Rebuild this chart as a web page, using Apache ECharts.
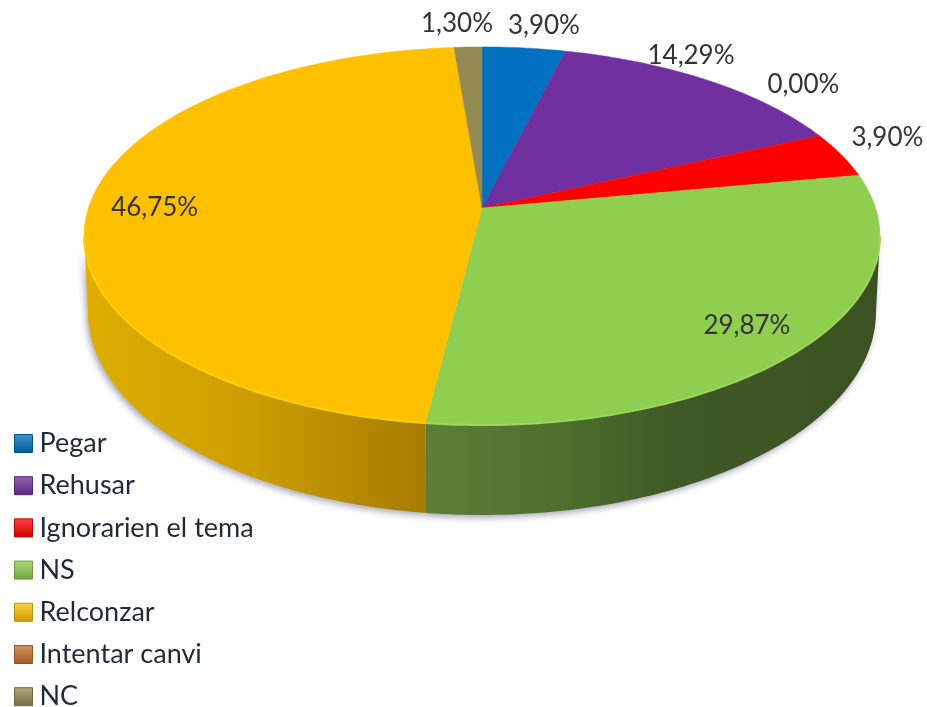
<!DOCTYPE html>
<html>
<head>
<meta charset="utf-8">
<style>
  html, body { margin: 0; padding: 0; background: #fff; }
  #main { width: 927px; height: 707px; }
</style>
<script src="https://cdn.jsdelivr.net/npm/echarts@6/dist/echarts.min.js"></script>
</head>
<body>
<div id="main"></div>
<script>
// legend order
var names = ['Pegar', 'Rehusar', 'Ignorarien el tema', 'NS', 'Relconzar', 'Intentar canvi', 'NC'];
var values = [3.90, 14.29, 3.90, 29.87, 46.75, 0.00, 1.30];
var colors = ['#0070c0', '#7030a0', '#ff0000', '#8fce4f', '#ffc000', '#c8702a', '#948a54'];
// clockwise order round the pie, the empty slice sits between Rehusar and Ignorarien
var pieOrder = ['Pegar', 'Rehusar', 'Intentar canvi', 'Ignorarien el tema', 'NS', 'Relconzar', 'NC'];

// label shift from the middle of each slice's rim, px
var labelShift = {
    'Pegar': [20, -22],
    'Rehusar': [-17, -25],
    'Intentar canvi': [-16, -51],
    'Ignorarien el tema': [46, -17],
    'NS': [-54, -23],
    'Relconzar': [65, 3],
    'NC': [-11, -23]
};

// wall gradients (left to right stops), only the front slices show a wall
var wallFill = {
    'NS': [[427, 930], [[0, '#5c7f38'], [0.27, '#4e6f2d'], [0.48, '#3f5a26'], [1, '#3a4f20']]],
    'Relconzar': [[84, 427], [[0, '#dfae00'], [0.5, '#cc9d00'], [1, '#a67b00']]]
};
var rimLight = { 'NS': '#9ad858', 'Relconzar': '#ffd000' };

// tilted disc: apex, radius and perspective
var apexX = 482, apexY = 208, radX = 393.6, radY = 184.9, persp = 0.148;
var ellCy = 236, ellRy = 189, ellRx = 398, baseCy = 312, baseRy = 203, baseRx = 394;
var wallFrom = 98.5, wallTo = 261.5;

function rim(deg) {
    var a = deg * Math.PI / 180;
    var w = 1 + persp * Math.cos(a);
    return [apexX + radX * Math.sin(a) / w, apexY - radY * Math.cos(a) / w];
}
function base(p) {
    return [apexX + (p[0] - apexX) * baseRx / ellRx, baseCy + (p[1] - ellCy) * baseRy / ellRy];
}
function arc(from, to) {
    var pts = [];
    var n = Math.max(1, Math.ceil(to - from));
    for (var i = 0; i <= n; i++) pts.push(rim(from + (to - from) * i / n));
    return pts;
}

var total = values.reduce(function (s, v) { return s + v; }, 0);
var running = 0;
var spans = {};
pieOrder.forEach(function (name) {
    var v = values[names.indexOf(name)];
    spans[name] = [running / total * 360, (running + v) / total * 360];
    running += v;
});

function renderSlice(params, api) {
    var name = params.seriesName;
    var value = api.value(0);
    var from = spans[name][0], to = spans[name][1];
    var color = colors[names.indexOf(name)];
    var kids = [];

    var wFrom = Math.max(from, wallFrom), wTo = Math.min(to, wallTo);
    if (wTo > wFrom && wallFill[name]) {
        var top = arc(wFrom, wTo);
        var bottom = top.map(base).reverse();
        var g = wallFill[name];
        kids.push({
            type: 'polygon',
            shape: { points: top.concat(bottom) },
            style: {
                fill: new echarts.graphic.LinearGradient(g[0][0], 0, g[0][1], 0, g[1].map(function (s) {
                    return { offset: s[0], color: s[1] };
                }), true),
                shadowBlur: 6,
                shadowOffsetX: -2,
                shadowOffsetY: 3,
                shadowColor: 'rgba(70,70,110,0.45)'
            }
        });
    }
    if (to > from) {
        kids.push({
            type: 'polygon',
            shape: { points: [[apexX, apexY]].concat(arc(from, to)) },
            style: { fill: color, stroke: color, lineWidth: 0.5 }
        });
    }
    if (wTo > wFrom && rimLight[name]) {
        kids.push({
            type: 'polyline',
            shape: { points: arc(wFrom, wTo) },
            style: { fill: 'none', stroke: rimLight[name], lineWidth: 2 }
        });
    }
    var mid = rim((from + to) / 2);
    var shift = labelShift[name];
    kids.push({
        type: 'text',
        z2: 10,
        style: {
            x: mid[0] + shift[0],
            y: mid[1] + shift[1],
            text: value.toFixed(2).replace('.', ',') + '%',
            font: '26px Lato',
            fill: '#333333',
            align: 'center',
            verticalAlign: 'middle'
        }
    });
    return { type: 'group', children: kids };
}

function shade(hex, k) {
    var n = parseInt(hex.slice(1), 16);
    var c = [n >> 16, (n >> 8) & 255, n & 255].map(function (x) {
        return Math.round(k > 0 ? x + (255 - x) * k : x * (1 + k));
    });
    return 'rgb(' + c.join(',') + ')';
}

var chart = echarts.init(document.getElementById('main'));
chart.setOption({
    animation: false,
    backgroundColor: '#ffffff',
    legend: {
        orient: 'vertical',
        left: 14,
        top: 430,
        height: 340,
        padding: 0,
        itemWidth: 18,
        itemHeight: 18,
        itemGap: 15.2,
        icon: 'rect',
        selectedMode: false,
        textStyle: { fontFamily: 'Lato', fontSize: 27, color: '#1f2937', padding: [0, 0, 0, 2] },
        data: names.map(function (n, i) {
            return {
                name: n,
                itemStyle: {
                    color: new echarts.graphic.LinearGradient(0, 0, 0, 1, [
                        { offset: 0, color: shade(colors[i], 0.25) },
                        { offset: 1, color: shade(colors[i], -0.2) }
                    ]),
                    borderColor: shade(colors[i], -0.25),
                    borderWidth: 1
                }
            };
        })
    },
    series: pieOrder.map(function (name) {
        return {
            name: name,
            type: 'custom',
            coordinateSystem: 'none',
            itemStyle: { color: colors[names.indexOf(name)] },
            renderItem: renderSlice,
            data: [[values[names.indexOf(name)]]]
        };
    })
});
</script>
</body>
</html>
